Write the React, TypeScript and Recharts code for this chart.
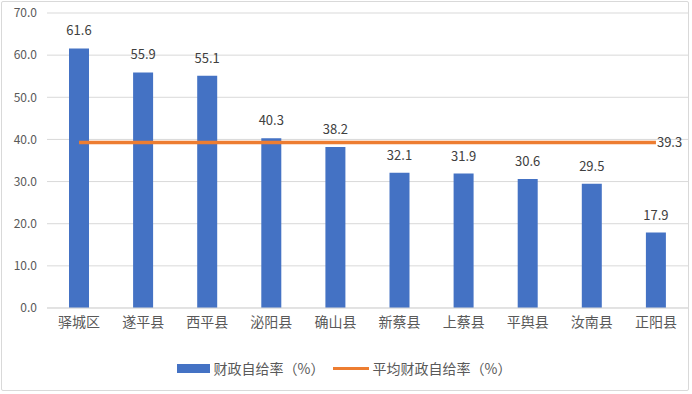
import React from 'react';
import { ComposedChart, Bar, Line, XAxis, YAxis, CartesianGrid, Legend, LabelList } from 'recharts';

const categories = ['驿城区', '遂平县', '西平县', '泌阳县', '确山县', '新蔡县', '上蔡县', '平舆县', '汝南县', '正阳县'];
const rates = [61.6, 55.9, 55.1, 40.3, 38.2, 32.1, 31.9, 30.6, 29.5, 17.9];
const averages = [39.3, 39.3, 39.3, 39.3, 39.3, 39.3, 39.3, 39.3, 39.3, 39.3];
const yTicks = [0, 10, 20, 30, 40, 50, 60, 70];
const barName = '财政自给率（%）';
const lineName = '平均财政自给率（%）';

const data = categories.map((name, i) => ({ name, rate: rates[i], avg: averages[i] }));

const FONT = '"Noto Sans CJK SC", "Noto Sans", sans-serif';

const LineEndLabel = (props: any) => {
  const { x, y, index, value } = props;
  if (index !== categories.length - 1) return null;
  return (
    <text x={x + 1} y={y} dy="0.35em" fill="#404040" fontSize={13} fontFamily={FONT} textAnchor="start">
      {Number(value).toFixed(1)}
    </text>
  );
};

const LegendContent = () => (
  <div style={{ display: 'flex', justifyContent: 'center', alignItems: 'center', height: 20, fontFamily: FONT, fontSize: 14, color: '#595959' }}>
    <span style={{ display: 'inline-block', width: 33, height: 9, background: '#4472C4', marginRight: 4 }} />
    <span style={{ marginRight: 8 }}>{barName}</span>
    <span style={{ display: 'inline-block', width: 36, height: 3, background: '#ED7D31', marginRight: 4 }} />
    <span>{lineName}</span>
  </div>
);

export default function App() {
  return (
    <div style={{ position: 'absolute', left: 0, top: 0, width: 692, height: 394, background: '#fff' }}>
      <div style={{ position: 'absolute', left: 1, top: 1, width: 688, height: 390, border: '1px solid #D9D9D9', boxSizing: 'border-box', borderRadius: 2 }} />
      <ComposedChart width={692} height={394} data={data} margin={{ top: 13, right: 4, bottom: 16, left: 0 }} barCategoryGap="34%">
        <CartesianGrid vertical={false} stroke="#D9D9D9" strokeWidth={1} />
        <XAxis
          dataKey="name"
          height={50}
          tickLine={false}
          axisLine={{ stroke: '#D9D9D9' }}
          tick={{ fill: '#595959', fontSize: 14, fontFamily: FONT }}
          tickMargin={3}
          interval={0}
        />
        <YAxis
          width={47}
          domain={[0, 70]}
          ticks={yTicks}
          tickLine={false}
          axisLine={false}
          tickFormatter={(v: number) => v.toFixed(1)}
          tick={{ fill: '#595959', fontSize: 12, fontFamily: FONT }}
          tickMargin={4}
          interval={0}
        />
        <Legend verticalAlign="bottom" content={<LegendContent />} />
        <Bar dataKey="rate" name={barName} fill="#4472C4" barSize={20} isAnimationActive={false}>
          <LabelList
            dataKey="rate"
            position="top"
            offset={13}
            formatter={(v: any) => Number(v).toFixed(1)}
            style={{ fill: '#404040', fontSize: 13, fontFamily: FONT }}
          />
        </Bar>
        <Line
          dataKey="avg"
          name={lineName}
          stroke="#ED7D31"
          strokeWidth={3.5}
          dot={false}
          activeDot={false}
          isAnimationActive={false}
        >
          <LabelList dataKey="avg" content={<LineEndLabel />} />
        </Line>
      </ComposedChart>
    </div>
  );
}
